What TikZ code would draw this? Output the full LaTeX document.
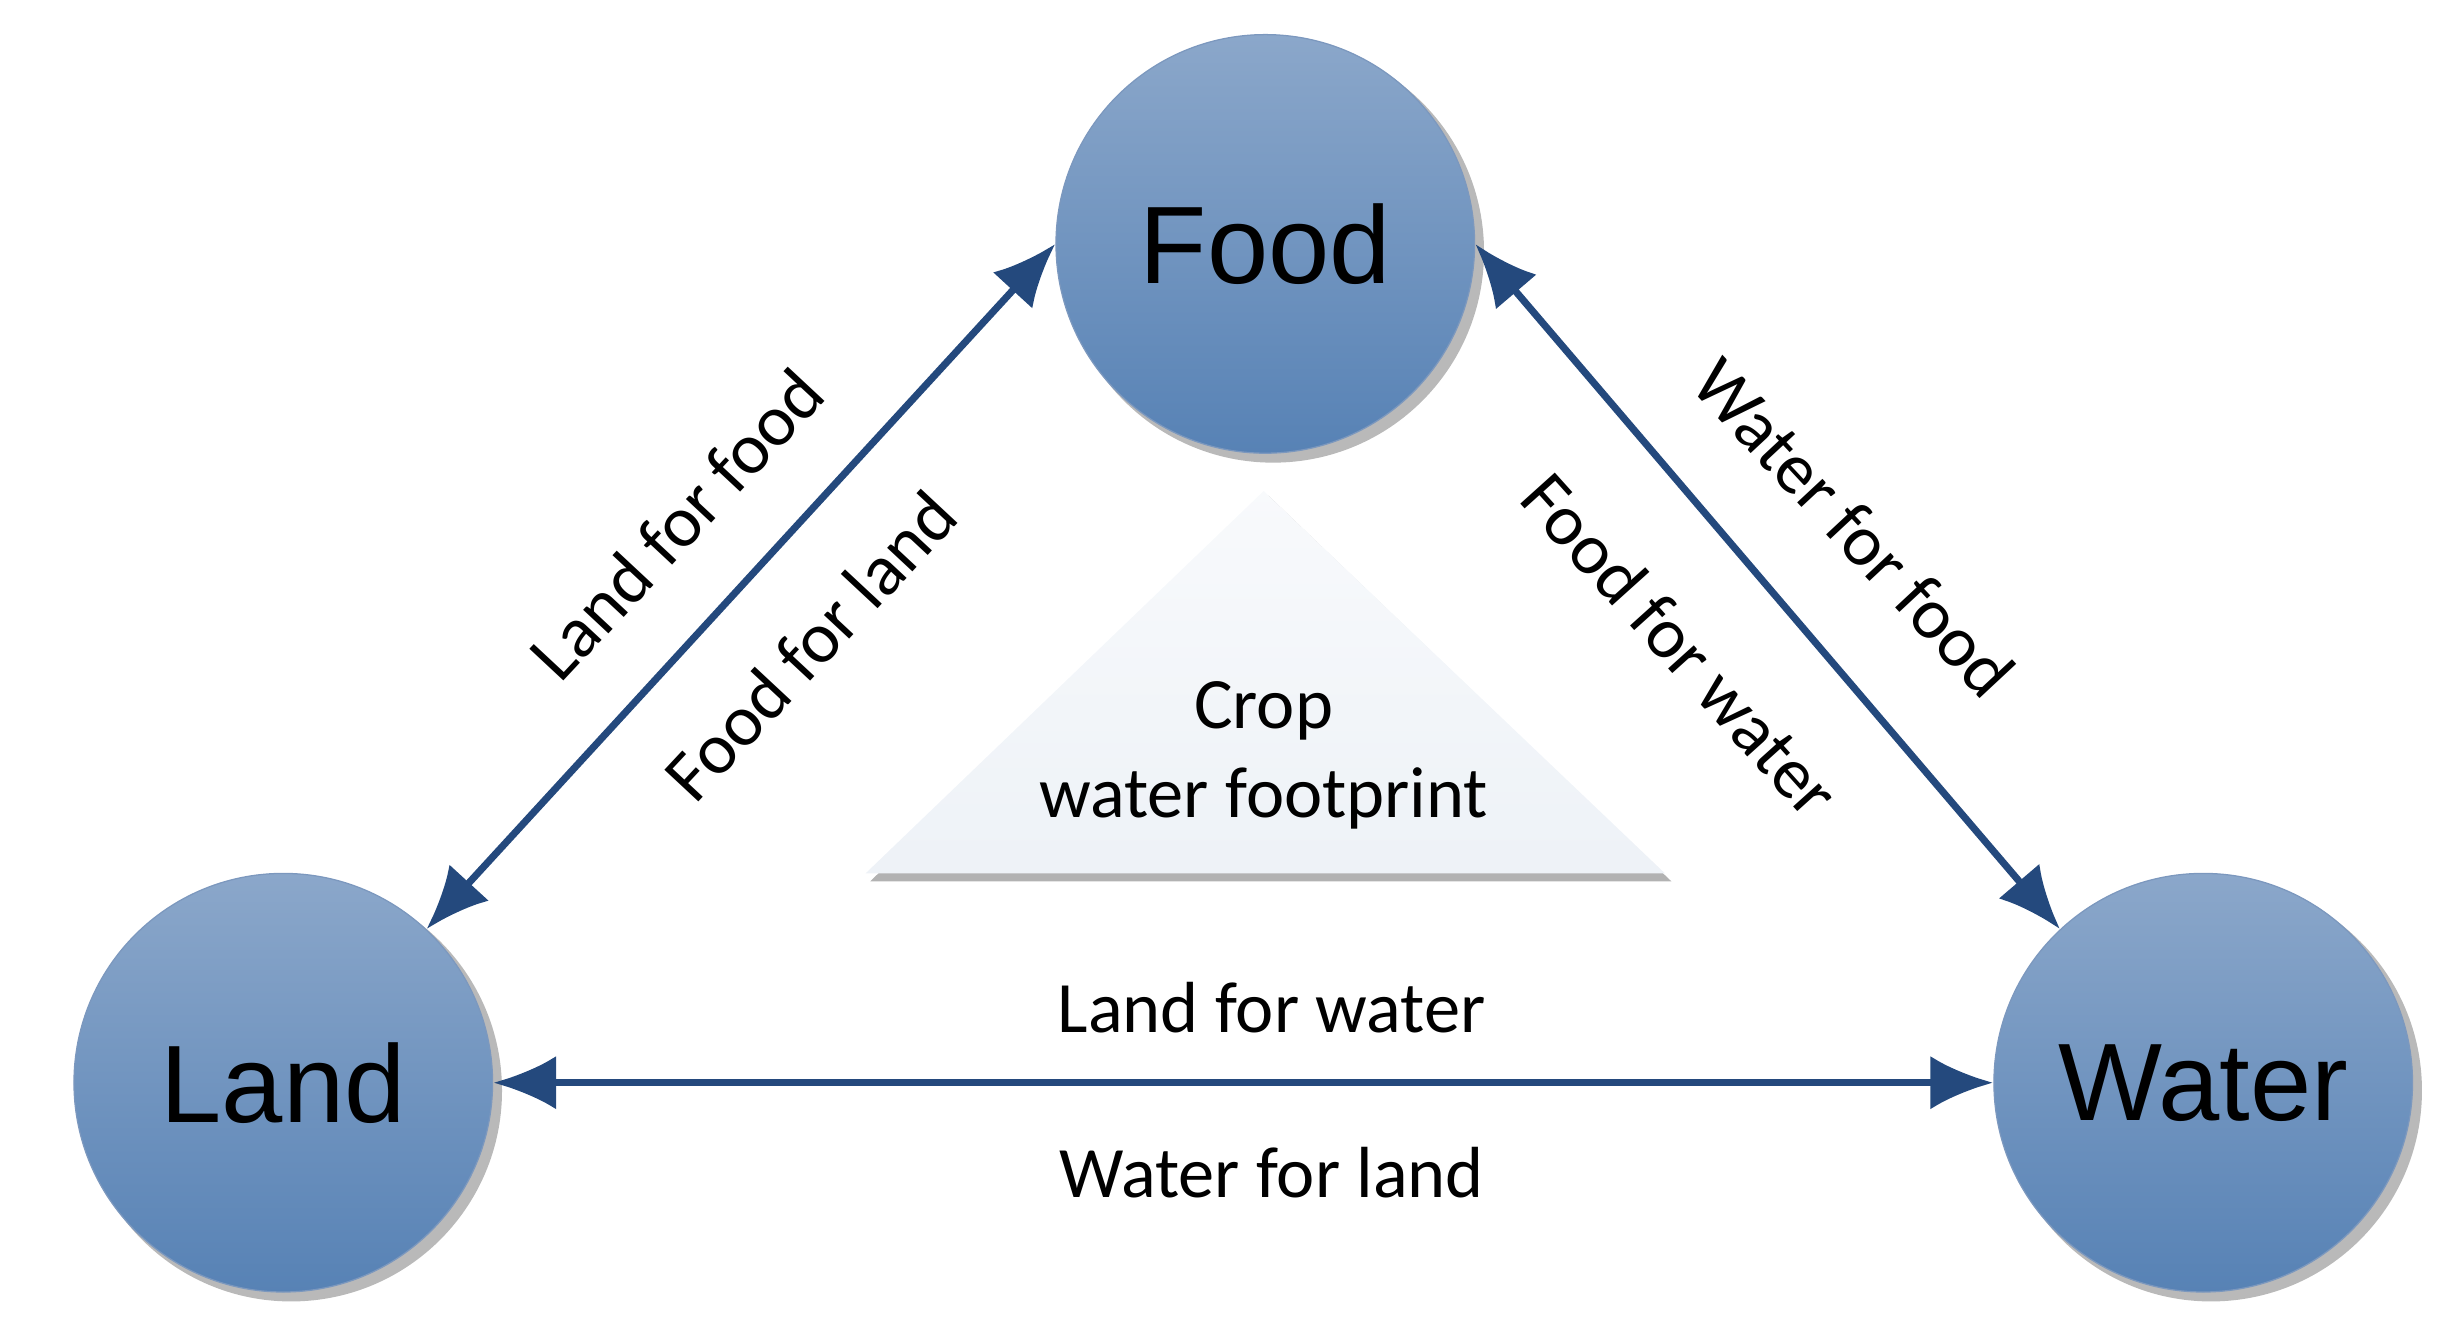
\documentclass[tikz,border=0pt]{standalone}
\usepackage{fontspec}
\setmainfont{Carlito}
\newfontfamily\arialf{Liberation Sans}
\usetikzlibrary{arrows.meta}
\definecolor{arr}{HTML}{24497D}
\tikzset{
 ball/.style={circle,minimum size=266pt,inner sep=0pt,top color=c1,bottom color=c2,draw=c3,line width=0.8pt,font=\arialf\fontsize{70}{76}\selectfont},
 conn/.style={draw=arr,line width=4.5pt,{Latex[length=40pt,width=34pt]}-{Latex[length=40pt,width=34pt]}},
 lbl/.style={font=\fontsize{46}{50}\selectfont}
}
\definecolor{c1}{HTML}{8BA7CA}
\definecolor{c2}{HTML}{5782B5}
\definecolor{c3}{HTML}{7C98BE}
\begin{document}
\begin{tikzpicture}[x=1pt,y=1pt]
\useasboundingbox (0,0) rectangle (1560,850);
\foreach \p in {(804,695),(180,162),(1400,162)}
  \fill[gray!55] \p ++(5,-5) circle (134pt);
\node[ball] (food) at (804,695) {Food};
\node[ball] (land) at (180,162) {Land};
\node[ball] (water) at (1400,162) {Water};
\fill[gray!60] (553,290) -- (1062,290) -- (806,535) -- cycle;
\path[top color=white!70!c1!20,bottom color=c1!15] (550,295) -- (1058,295) -- (803,538) -- cycle;
\node[align=center,font=\fontsize{46}{56}\selectfont] (crop) at (803,370) {Crop\\water footprint};
\draw[conn] (land.47) -- (food.180);
\draw[conn] (food.0) -- (water.133);
\draw[conn] (land.0) -- (water.180);
\node[lbl,rotate=47] (l1) at (430,517) {Land for food};
\node[lbl,rotate=47] (l2) at (515,440) {Food for land};
\node[lbl,rotate=-47] (l3) at (1178,515) {Water for food};
\node[lbl,rotate=-48] (l4) at (1068,440) {Food for water};
\node[lbl] (l5) at (808,210) {Land for water};
\node[lbl] (l6) at (808,105) {Water for land};
\end{tikzpicture}
\end{document}
